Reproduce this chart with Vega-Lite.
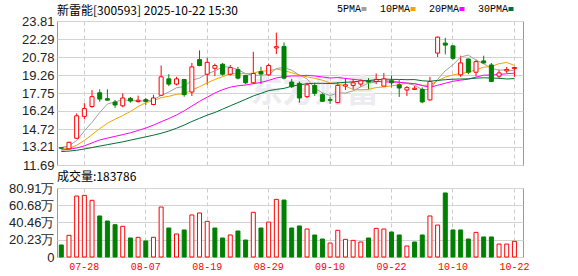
{
"$schema": "https://vega.github.io/schema/vega-lite/v6.json",
"background": "#ffffff",
"padding": {"left": 5, "top": 4, "right": 5, "bottom": 0},
"spacing": -3,
"config": {
  "view": {"stroke": "#999999", "strokeWidth": 1},
  "axis": {"domain": false, "ticks": false, "title": null, "gridColor": "#d3d3d3", "gridWidth": 1, "labelFont": "Liberation Sans", "labelFontSize": 13, "labelColor": "#222222", "labelOverlap": false},
  "axisY": {"minExtent": 51, "maxExtent": 51, "labelPadding": 3},
  "title": {"anchor": "start", "frame": "group", "font": "Noto Sans CJK SC", "fontSize": 12, "fontWeight": "normal", "color": "#000000", "offset": 2}
},
"datasets": {"k": [
{"d":"07-23","o":13.15,"h":13.20,"l":13.05,"c":13.10,"v":141000,"u":false,"5PMA":13.16,"10PMA":13.02,"20PMA":12.95,"30PMA":12.82},
{"d":"07-24","o":13.05,"h":13.65,"l":13.00,"c":13.60,"v":254000,"u":true,"5PMA":13.30,"10PMA":13.10,"20PMA":13.02,"30PMA":12.86},
{"d":"07-25","o":13.94,"h":16.03,"l":13.90,"c":15.83,"v":715000,"u":true,"5PMA":13.75,"10PMA":13.35,"20PMA":13.12,"30PMA":12.93},
{"d":"07-28","o":15.78,"h":16.89,"l":15.55,"c":16.44,"v":723000,"u":true,"5PMA":14.55,"10PMA":13.75,"20PMA":13.30,"30PMA":13.04},
{"d":"07-29","o":16.61,"h":18.00,"l":16.50,"c":17.44,"v":665000,"u":true,"5PMA":15.28,"10PMA":14.25,"20PMA":13.55,"30PMA":13.16},
{"d":"07-30","o":17.77,"h":18.06,"l":17.02,"c":17.24,"v":481000,"u":false,"5PMA":16.11,"10PMA":14.75,"20PMA":13.80,"30PMA":13.28},
{"d":"07-31","o":17.27,"h":18.06,"l":17.10,"c":17.15,"v":422000,"u":false,"5PMA":16.82,"10PMA":15.20,"20PMA":13.95,"30PMA":13.40},
{"d":"08-01","o":16.99,"h":17.17,"l":16.50,"c":16.74,"v":379000,"u":false,"5PMA":17.00,"10PMA":15.55,"20PMA":14.10,"30PMA":13.52},
{"d":"08-04","o":16.67,"h":17.72,"l":16.55,"c":17.33,"v":360000,"u":true,"5PMA":17.18,"10PMA":15.85,"20PMA":14.25,"30PMA":13.64},
{"d":"08-05","o":17.30,"h":17.41,"l":16.94,"c":17.08,"v":223000,"u":false,"5PMA":17.11,"10PMA":16.20,"20PMA":14.40,"30PMA":13.78},
{"d":"08-06","o":17.03,"h":17.53,"l":16.94,"c":17.14,"v":231000,"u":true,"5PMA":17.09,"10PMA":16.60,"20PMA":14.60,"30PMA":13.92},
{"d":"08-07","o":17.19,"h":17.33,"l":16.72,"c":17.05,"v":188000,"u":false,"5PMA":17.07,"10PMA":16.94,"20PMA":14.80,"30PMA":14.06},
{"d":"08-08","o":16.78,"h":17.61,"l":16.72,"c":17.33,"v":231000,"u":true,"5PMA":17.19,"10PMA":17.09,"20PMA":15.05,"30PMA":14.20},
{"d":"08-11","o":17.56,"h":20.06,"l":17.50,"c":19.11,"v":586000,"u":true,"5PMA":17.54,"10PMA":17.36,"20PMA":15.33,"30PMA":14.36},
{"d":"08-12","o":18.94,"h":19.33,"l":18.33,"c":18.50,"v":340000,"u":false,"5PMA":17.83,"10PMA":17.47,"20PMA":15.60,"30PMA":14.55},
{"d":"08-13","o":18.50,"h":19.11,"l":18.39,"c":18.94,"v":270000,"u":true,"5PMA":18.19,"10PMA":17.64,"20PMA":15.90,"30PMA":14.78},
{"d":"08-14","o":18.89,"h":18.94,"l":17.44,"c":17.61,"v":317000,"u":false,"5PMA":18.30,"10PMA":17.68,"20PMA":16.25,"30PMA":15.05},
{"d":"08-15","o":17.83,"h":20.28,"l":17.50,"c":19.95,"v":493000,"u":true,"5PMA":18.82,"10PMA":18.00,"20PMA":16.65,"30PMA":15.35},
{"d":"08-18","o":20.56,"h":21.34,"l":20.00,"c":20.06,"v":516000,"u":true,"5PMA":19.01,"10PMA":18.28,"20PMA":17.05,"30PMA":15.62},
{"d":"08-19","o":19.33,"h":20.72,"l":18.44,"c":20.33,"v":418000,"u":true,"5PMA":19.38,"10PMA":18.60,"20PMA":17.40,"30PMA":15.89},
{"d":"08-20","o":19.83,"h":20.22,"l":19.17,"c":20.06,"v":340000,"u":false,"5PMA":19.60,"10PMA":18.89,"20PMA":17.75,"30PMA":16.11},
{"d":"08-21","o":20.17,"h":20.28,"l":19.22,"c":19.33,"v":223000,"u":false,"5PMA":19.95,"10PMA":19.12,"20PMA":18.03,"30PMA":16.39},
{"d":"08-22","o":19.33,"h":20.11,"l":19.22,"c":19.89,"v":258000,"u":true,"5PMA":19.93,"10PMA":19.38,"20PMA":18.24,"30PMA":16.67},
{"d":"08-25","o":19.72,"h":19.95,"l":18.89,"c":19.00,"v":305000,"u":false,"5PMA":19.72,"10PMA":19.37,"20PMA":18.36,"30PMA":16.94},
{"d":"08-26","o":19.22,"h":19.28,"l":18.50,"c":18.61,"v":199000,"u":false,"5PMA":19.38,"10PMA":19.38,"20PMA":18.42,"30PMA":17.22},
{"d":"08-27","o":18.61,"h":21.22,"l":18.50,"c":19.39,"v":524000,"u":true,"5PMA":19.24,"10PMA":19.42,"20PMA":18.53,"30PMA":17.50},
{"d":"08-28","o":19.55,"h":19.95,"l":18.50,"c":19.35,"v":340000,"u":false,"5PMA":19.25,"10PMA":19.60,"20PMA":18.64,"30PMA":17.72},
{"d":"08-29","o":19.28,"h":20.22,"l":19.17,"c":20.06,"v":410000,"u":true,"5PMA":19.28,"10PMA":19.61,"20PMA":18.81,"30PMA":17.95},
{"d":"09-01","o":21.54,"h":22.83,"l":21.03,"c":21.65,"v":676000,"u":true,"5PMA":19.81,"10PMA":19.77,"20PMA":19.02,"30PMA":18.05},
{"d":"09-02","o":21.67,"h":22.00,"l":18.89,"c":19.00,"v":668000,"u":false,"5PMA":19.89,"10PMA":19.63,"20PMA":19.12,"30PMA":18.14},
{"d":"09-03","o":18.67,"h":18.94,"l":18.17,"c":18.28,"v":340000,"u":false,"5PMA":19.67,"10PMA":19.46,"20PMA":19.18,"30PMA":18.32},
{"d":"09-04","o":18.56,"h":18.72,"l":16.94,"c":17.33,"v":364000,"u":false,"5PMA":19.26,"10PMA":19.26,"20PMA":19.19,"30PMA":18.44},
{"d":"09-05","o":17.44,"h":18.61,"l":17.33,"c":18.44,"v":328000,"u":true,"5PMA":18.94,"10PMA":19.11,"20PMA":19.24,"30PMA":18.53},
{"d":"09-08","o":18.39,"h":18.61,"l":17.50,"c":17.72,"v":258000,"u":false,"5PMA":18.15,"10PMA":18.98,"20PMA":19.18,"30PMA":18.57},
{"d":"09-09","o":17.61,"h":17.78,"l":17.00,"c":17.05,"v":211000,"u":false,"5PMA":17.76,"10PMA":18.83,"20PMA":19.10,"30PMA":18.56},
{"d":"09-10","o":17.19,"h":17.44,"l":16.83,"c":17.14,"v":164000,"u":true,"5PMA":17.54,"10PMA":18.60,"20PMA":19.01,"30PMA":18.55},
{"d":"09-11","o":16.94,"h":18.67,"l":16.89,"c":18.39,"v":313000,"u":true,"5PMA":17.75,"10PMA":18.51,"20PMA":19.05,"30PMA":18.60},
{"d":"09-12","o":18.33,"h":19.00,"l":18.00,"c":18.44,"v":207000,"u":true,"5PMA":17.75,"10PMA":18.34,"20PMA":18.98,"30PMA":18.65},
{"d":"09-15","o":18.39,"h":18.94,"l":18.05,"c":18.61,"v":195000,"u":true,"5PMA":17.93,"10PMA":18.04,"20PMA":18.90,"30PMA":18.69},
{"d":"09-16","o":18.50,"h":18.89,"l":18.28,"c":18.78,"v":176000,"u":true,"5PMA":18.27,"10PMA":18.02,"20PMA":18.83,"30PMA":18.75},
{"d":"09-17","o":18.78,"h":19.00,"l":18.05,"c":18.67,"v":223000,"u":false,"5PMA":18.58,"10PMA":18.06,"20PMA":18.76,"30PMA":18.80},
{"d":"09-18","o":18.72,"h":19.39,"l":18.50,"c":18.89,"v":336000,"u":true,"5PMA":18.68,"10PMA":18.21,"20PMA":18.73,"30PMA":18.86},
{"d":"09-19","o":18.33,"h":19.44,"l":18.33,"c":18.94,"v":328000,"u":true,"5PMA":18.78,"10PMA":18.26,"20PMA":18.69,"30PMA":18.92},
{"d":"09-22","o":18.78,"h":19.22,"l":18.22,"c":18.61,"v":293000,"u":false,"5PMA":18.78,"10PMA":18.35,"20PMA":18.67,"30PMA":18.90},
{"d":"09-23","o":18.44,"h":18.83,"l":17.42,"c":18.17,"v":258000,"u":false,"5PMA":18.66,"10PMA":18.46,"20PMA":18.65,"30PMA":18.89},
{"d":"09-24","o":18.00,"h":18.33,"l":17.50,"c":18.20,"v":129000,"u":true,"5PMA":18.56,"10PMA":18.57,"20PMA":18.59,"30PMA":18.87},
{"d":"09-25","o":18.05,"h":18.33,"l":18.00,"c":18.15,"v":176000,"u":false,"5PMA":18.41,"10PMA":18.55,"20PMA":18.53,"30PMA":18.88},
{"d":"09-26","o":18.05,"h":18.22,"l":16.89,"c":17.00,"v":258000,"u":false,"5PMA":18.03,"10PMA":18.40,"20PMA":18.37,"30PMA":18.78},
{"d":"09-29","o":17.17,"h":19.11,"l":17.11,"c":18.72,"v":481000,"u":true,"5PMA":18.05,"10PMA":18.41,"20PMA":18.23,"30PMA":18.74},
{"d":"09-30","o":21.11,"h":22.50,"l":20.78,"c":22.45,"v":375000,"u":true,"5PMA":18.90,"10PMA":18.78,"20PMA":18.40,"30PMA":18.81},
{"d":"10-09","o":21.95,"h":22.39,"l":21.00,"c":21.78,"v":751000,"u":false,"5PMA":19.62,"10PMA":19.09,"20PMA":18.57,"30PMA":18.87},
{"d":"10-10","o":21.72,"h":21.72,"l":20.56,"c":20.67,"v":317000,"u":false,"5PMA":20.12,"10PMA":19.27,"20PMA":18.74,"30PMA":18.91},
{"d":"10-13","o":19.28,"h":20.89,"l":19.11,"c":20.28,"v":317000,"u":false,"5PMA":20.78,"10PMA":19.40,"20PMA":18.83,"30PMA":18.93},
{"d":"10-14","o":20.61,"h":20.67,"l":19.33,"c":19.50,"v":211000,"u":false,"5PMA":20.94,"10PMA":19.49,"20PMA":18.92,"30PMA":18.94},
{"d":"10-15","o":19.50,"h":20.56,"l":19.17,"c":20.39,"v":289000,"u":true,"5PMA":20.52,"10PMA":19.71,"20PMA":19.09,"30PMA":19.00},
{"d":"10-16","o":20.45,"h":20.89,"l":20.17,"c":20.28,"v":235000,"u":false,"5PMA":20.22,"10PMA":19.92,"20PMA":19.25,"30PMA":19.03},
{"d":"10-17","o":20.11,"h":20.28,"l":18.67,"c":18.72,"v":235000,"u":false,"5PMA":19.83,"10PMA":19.98,"20PMA":19.26,"30PMA":19.01},
{"d":"10-20","o":19.17,"h":19.72,"l":18.94,"c":19.44,"v":152000,"u":true,"5PMA":19.67,"10PMA":20.22,"20PMA":19.31,"30PMA":18.99},
{"d":"10-21","o":19.61,"h":19.95,"l":19.44,"c":19.72,"v":152000,"u":true,"5PMA":19.71,"10PMA":20.32,"20PMA":19.37,"30PMA":18.93},
{"d":"10-22","o":19.80,"h":19.95,"l":19.11,"c":19.90,"v":183786,"u":true,"5PMA":19.61,"10PMA":20.07,"20PMA":19.42,"30PMA":18.96}
]},
"vconcat": [
{
  "width": 466, "height": 144,
  "title": {"text": "新雷能[300593] 2025-10-22 15:30", "offset": -3},
  "data": {"name": "k"},
  "encoding": {
    "x": {"field": "d", "type": "ordinal",
      "scale": {"paddingInner": 0, "paddingOuter": 0.34, "align": 0.09},
      "axis": {"labels": false, "grid": true, "gridDash": [4, 3], "gridColor": "#cccccc", "bandPosition": 0.5, "minExtent": 0, "maxExtent": 0,
        "values": ["07-28","08-07","08-19","08-29","09-10","09-22","10-10","10-22"]}}
  },
  "layer": [
    {
      "data": {"values": [{"t": "东方财富"}]},
      "mark": {"type": "text", "font": "Noto Sans CJK SC", "fontSize": 32, "fontWeight": "bold", "color": "#ececf0", "align": "center", "baseline": "middle"},
      "encoding": {
        "x": {"datum": "09-08", "type": "ordinal"},
        "y": {"datum": 17.8, "type": "quantitative", "scale": {"domain": [11.69, 23.81], "nice": false, "zero": false},
          "axis": {"values": [11.69, 13.21, 14.72, 16.24, 17.75, 19.26, 20.78, 22.29, 23.81], "format": ".2f", "grid": true, "labelOverlap": false}},
        "text": {"field": "t"}
      }
    },
    {
      "mark": {"type": "rule", "strokeWidth": 1},
      "encoding": {
        "y": {"field": "l", "type": "quantitative", "scale": {"domain": [11.69, 23.81], "nice": false, "zero": false},
          "axis": {"values": [11.69, 13.21, 14.72, 16.24, 17.75, 19.26, 20.78, 22.29, 23.81], "format": ".2f", "grid": true, "labelOverlap": false}},
        "y2": {"field": "h"},
        "color": {"condition": {"test": "datum.c >= datum.o", "value": "#ff0000"}, "value": "#008000"}
      }
    },
    {
      "transform": [{"fold": ["5PMA", "10PMA", "20PMA", "30PMA"], "as": ["ma", "val"]}],
      "mark": {"type": "line", "strokeWidth": 1},
      "encoding": {
        "y": {"field": "val", "type": "quantitative", "scale": {"domain": [11.69, 23.81], "nice": false, "zero": false},
          "axis": {"values": [11.69, 13.21, 14.72, 16.24, 17.75, 19.26, 20.78, 22.29, 23.81], "format": ".2f", "grid": true, "labelOverlap": false}},
        "stroke": {"field": "ma", "type": "nominal",
          "scale": {"domain": ["5PMA", "10PMA", "20PMA", "30PMA"], "range": ["#a0a0a0", "#f4a300", "#ff00ff", "#006f38"]},
          "legend": {"orient": "none", "legendX": 302, "legendY": -17, "direction": "horizontal", "title": null,
            "symbolType": "stroke", "symbolSize": 25, "symbolStrokeWidth": 4,
            "labelFont": "Liberation Mono", "labelFontSize": 10, "labelColor": "#000000",
            "labelAlign": "right", "labelOffset": -8, "columnPadding": 4}}
      }
    },
    {
      "mark": {"type": "bar", "size": 4, "strokeWidth": 1},
      "encoding": {
        "y": {"field": "o", "type": "quantitative", "scale": {"domain": [11.69, 23.81], "nice": false, "zero": false},
          "axis": {"values": [11.69, 13.21, 14.72, 16.24, 17.75, 19.26, 20.78, 22.29, 23.81], "format": ".2f", "grid": true, "labelOverlap": false}},
        "y2": {"field": "c"},
        "fill": {"condition": {"test": "datum.c >= datum.o", "value": "#ffffff"}, "value": "#008000"},
        "stroke": {"condition": {"test": "datum.c >= datum.o", "value": "#ff0000"}, "value": "#008000"}
      }
    }
  ]
},
{
  "width": 466, "height": 69,
  "title": {"text": "成交量:183786", "offset": -2},
  "data": {"name": "k"},
  "mark": {"type": "bar", "size": 4, "strokeWidth": 1},
  "encoding": {
    "x": {"field": "d", "type": "ordinal",
      "scale": {"paddingInner": 0, "paddingOuter": 0.34, "align": 0.09},
      "axis": {"grid": true, "gridDash": [4, 3], "gridColor": "#cccccc", "bandPosition": 0.5,
        "values": ["07-28","08-07","08-19","08-29","09-10","09-22","10-10","10-22"],
        "labelColor": "#ff0000", "labelFont": "Liberation Mono", "labelFontSize": 10, "labelPadding": 4, "labelAngle": 0}},
    "y": {"field": "v", "type": "quantitative", "scale": {"domain": [0, 809100], "nice": false},
      "axis": {"values": [0, 202300, 404600, 606800, 809100], "grid": true, "labelOverlap": false,
        "labelExpr": "datum.value == 0 ? '0' : format(datum.value / 10000, '.2f') + '万'"}},
    "fill": {"condition": {"test": "datum.u", "value": "#ffffff"}, "value": "#008000"},
    "stroke": {"condition": {"test": "datum.u", "value": "#ff0000"}, "value": "#008000"}
  }
}
]
}
